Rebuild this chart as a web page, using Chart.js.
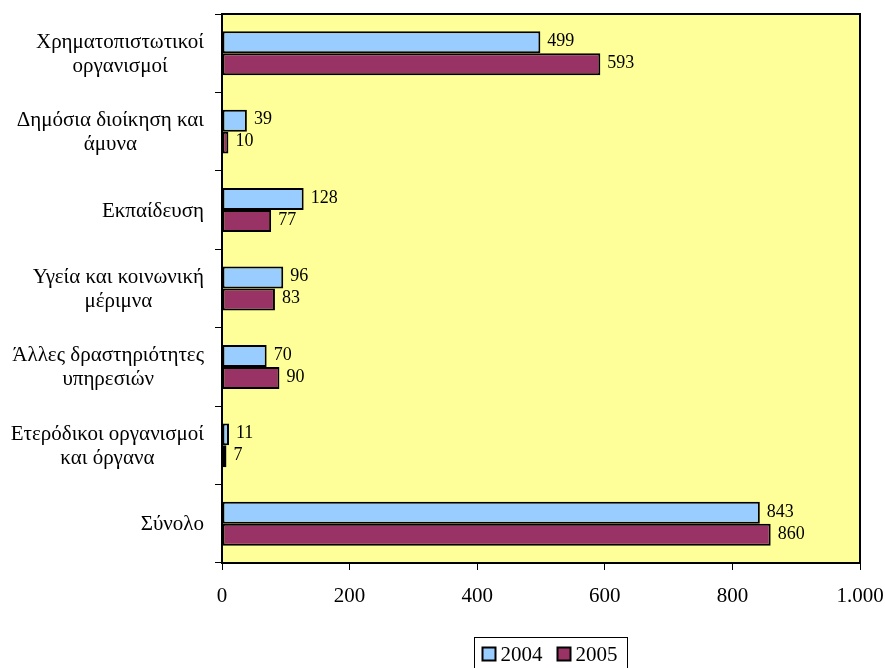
<!DOCTYPE html>
<html>
<head>
<meta charset="utf-8">
<script src="https://cdn.jsdelivr.net/npm/chart.js@4.4.1/dist/chart.umd.min.js"></script>
<style>
  html, body { margin: 0; padding: 0; background: #fff; }
  #wrap { width: 885px; height: 668px; position: relative; }
</style>
</head>
<body>
<div id="wrap"><canvas id="chart"></canvas></div>
<script>
"use strict"

const categories = [
	["Χρηματοπιστωτικοί", "οργανισμοί"],
	["Δημόσια διοίκηση και", "άμυνα"],
	["Εκπαίδευση"],
	["Υγεία και κοινωνική", "μέριμνα"],
	["Άλλες δραστηριότητες", "υπηρεσιών"],
	["Ετερόδικοι οργανισμοί", "και όργανα"],
	["Σύνολο"]
]
const values2004 = [499, 39, 128, 96, 70, 11, 843]
const values2005 = [593, 10, 77, 83, 90, 7, 860]
const seriesLabels = ["2004", "2005"]
const xTicks = [0, 200, 400, 600, 800, 1000]

const FONT = "'Liberation Serif', 'Times New Roman', serif"

// yellow plot background + black frame
const plotFrame = {
	id: "plotFrame",
	beforeDatasetsDraw: function (chart) {
		const a = chart.chartArea, ctx = chart.ctx
		ctx.save()
		ctx.fillStyle = "#FFFF99"
		ctx.fillRect(a.left, a.top, a.right - a.left, a.bottom - a.top)
		ctx.restore()
	},
	afterDraw: function (chart) {
		const a = chart.chartArea, ctx = chart.ctx
		ctx.save()
		ctx.strokeStyle = "#000"
		ctx.lineWidth = 2
		ctx.strokeRect(a.left, a.top, a.right - a.left, a.bottom - a.top)
		ctx.restore()
	}
}

// category labels: block right aligned, lines centred inside the block
const categoryLabels = {
	id: "categoryLabels",
	afterDraw: function (chart) {
		const ctx = chart.ctx, yScale = chart.scales.y
		const right = chart.chartArea.left - 18
		const lineH = 24
		ctx.save()
		ctx.font = "21px " + FONT
		ctx.fillStyle = "#000"
		ctx.textAlign = "center"
		ctx.textBaseline = "middle"
		chart.data.labels.forEach(function (lines, i) {
			const yc = yScale.getPixelForValue(i)
			let w = 0
			lines.forEach(function (l) { w = Math.max(w, ctx.measureText(l).width) })
			const xc = right - w / 2
			const y0 = yc - (lines.length - 1) * lineH / 2 + 1
			lines.forEach(function (l, k) { ctx.fillText(l, xc, y0 + k * lineH) })
		})
		ctx.restore()
	}
}

// numbers at the end of every bar
const valueLabels = {
	id: "valueLabels",
	afterDatasetsDraw: function (chart) {
		const ctx = chart.ctx
		ctx.save()
		ctx.font = "18px " + FONT
		ctx.fillStyle = "#000"
		ctx.textAlign = "left"
		ctx.textBaseline = "middle"
		chart.data.datasets.forEach(function (ds, di) {
			chart.getDatasetMeta(di).data.forEach(function (bar, i) {
				ctx.fillText(String(ds.data[i]), bar.x + 7, bar.y - 1)
			})
		})
		ctx.restore()
	}
}

// boxed legend under the plot
const boxLegend = {
	id: "boxLegend",
	afterDraw: function (chart) {
		const ctx = chart.ctx
		const cx = 550, top = 637, box = 13, gap = 5, itemGap = 15
		ctx.save()
		ctx.font = "21px " + FONT
		ctx.textBaseline = "middle"
		ctx.textAlign = "left"
		const ds = chart.data.datasets
		const widths = ds.map(function (d) { return box + gap + ctx.measureText(d.label).width })
		const total = widths.reduce(function (s, w) { return s + w }, 0) + itemGap * (ds.length - 1)
		const pad = 9
		ctx.strokeStyle = "#000"
		ctx.lineWidth = 1
		ctx.strokeRect(Math.round(cx - total / 2 - pad) + 0.5, top + 0.5, Math.round(total + pad * 2), 40)
		let x = cx - total / 2
		const yc = top + 17
		ds.forEach(function (d, i) {
			ctx.fillStyle = d.backgroundColor
			ctx.fillRect(x, yc - box / 2, box, box)
			ctx.lineWidth = 2
			ctx.strokeRect(x, yc - box / 2, box, box)
			ctx.fillStyle = "#000"
			ctx.fillText(d.label, x + box + gap, yc + 1)
			x += widths[i] + itemGap
		})
		ctx.restore()
	}
}

new Chart(document.getElementById("chart"), {
	type: "bar",
	data: {
		labels: categories,
		datasets: [{
			label: seriesLabels[0],
			data: values2004,
			backgroundColor: "#99CCFF",
			borderColor: "#000",
			borderWidth: 2,
			borderSkipped: false
		}, {
			label: seriesLabels[1],
			data: values2005,
			backgroundColor: "#993366",
			borderColor: "#000",
			borderWidth: 2,
			borderSkipped: false
		}]
	},
	options: {
		indexAxis: "y",
		responsive: true,
		maintainAspectRatio: false,
		animation: false,
		categoryPercentage: 0.56,
		barPercentage: 1.0,
		layout: { padding: { top: 14, right: 25, left: 0, bottom: 0 } },
		plugins: {
			legend: { display: false },
			tooltip: { enabled: false }
		},
		scales: {
			x: {
				min: 0,
				max: 1000,
				afterBuildTicks: function (scale) {
					scale.ticks = xTicks.map(function (v) { return { value: v } })
				},
				afterFit: function (scale) {
					scale.height = 105
					scale.paddingLeft = 0
					scale.paddingRight = 0
				},
				grid: { drawOnChartArea: false, drawTicks: true, tickLength: 7, color: "#000" },
				border: { display: true, color: "#000", width: 2 },
				ticks: {
					color: "#000",
					padding: 14,
					maxRotation: 0,
					font: { family: FONT, size: 21 },
					callback: function (v) {
						return String(v).replace(/\B(?=(\d{3})+(?!\d))/g, ".")
					}
				}
			},
			y: {
				type: "category",
				offset: true,
				afterFit: function (scale) { scale.width = 222 },
				grid: { offset: true, drawOnChartArea: false, drawTicks: true, tickLength: 7, color: "#000" },
				border: { display: true, color: "#000", width: 2 },
				ticks: { display: false }
			}
		}
	},
	plugins: [plotFrame, categoryLabels, valueLabels, boxLegend]
})
</script>
</body>
</html>
